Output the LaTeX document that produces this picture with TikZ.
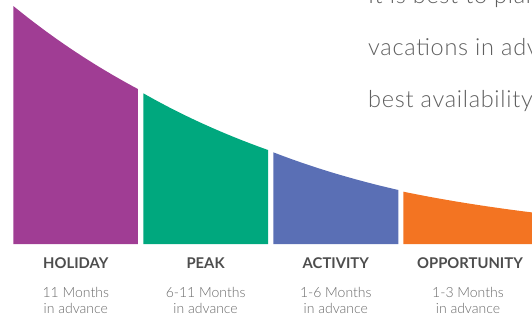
\documentclass[tikz,border=0pt]{standalone}
\usepackage{fontspec}
\setmainfont{Lato}
\newfontfamily\lightfont{Lato Light}
\newfontfamily\lightwide[LetterSpace=3]{Lato Light}
\definecolor{cpurple}{RGB}{160,61,148}
\definecolor{cgreen}{RGB}{0,168,126}
\definecolor{cblue}{RGB}{90,111,181}
\definecolor{corange}{RGB}{243,116,34}
\definecolor{labgray}{RGB}{77,77,77}
\definecolor{txtgray}{RGB}{105,105,105}
\definecolor{bodygray}{RGB}{95,95,95}
\tikzset{
  cat/.style={font=\fontsize{14.8}{16}\selectfont\bfseries, text=labgray, anchor=base, inner sep=0pt},
  period/.style={font=\lightfont\fontsize{14}{16}\selectfont, text=txtgray, anchor=base, inner sep=0pt},
  body/.style={font=\lightwide\fontsize{23.5}{26}\selectfont, text=bodygray, anchor=base west, inner sep=0pt},
}
\newcommand{\seg}[5]{% color, x0, x1, h0, h1
  \fill[#1] (#2,244) -- plot[domain=#2:#3, samples=50] (\x, {244-#4*exp(ln(#5/#4)*(\x-#2)/(#3-#2))}) -- (#3,244) -- cycle;
}
\begin{document}
\begin{tikzpicture}[x=1pt,y=-1pt]
\useasboundingbox (0,0) rectangle (532,322);
\clip (0,0) rectangle (532,322);
\seg{cpurple}{13.3}{137.8}{238}{155}
\seg{cgreen}{143.3}{268}{150.7}{94}
\seg{cblue}{273.3}{398.3}{91.7}{54}
\seg{corange}{403.3}{540}{52.3}{30.6}
\node[cat] (hol) at (75.8,268.2) {HOLIDAY};
\node[cat] (peak) at (205.6,268.2) {PEAK};
\node[cat] (act) at (335.8,268.2) {ACTIVITY};
\node[cat] (opp) at (470,268.2) {OPPORTUNITY};
\node[period] (hola) at (75.8,297.7) {11 Months};
\node[period] (holb) at (75.8,313.7) {in advance};
\node[period] (peaka) at (205.6,297.7) {6-11 Months};
\node[period] (peakb) at (205.6,313.7) {in advance};
\node[period] (acta) at (335.8,297.7) {1-6 Months};
\node[period] (actb) at (335.8,313.7) {in advance};
\node[period] (oppa) at (468,297.7) {1-3 Months};
\node[period] (oppb) at (468,313.7) {in advance};
\node[body] (l1) at (368,3.5) {It is best to plan};
\node[body] (l2) at (368,55.2) {vacations in advance};
\node[body] (l3) at (368,107.3) {best availability};
\end{tikzpicture}
\end{document}
